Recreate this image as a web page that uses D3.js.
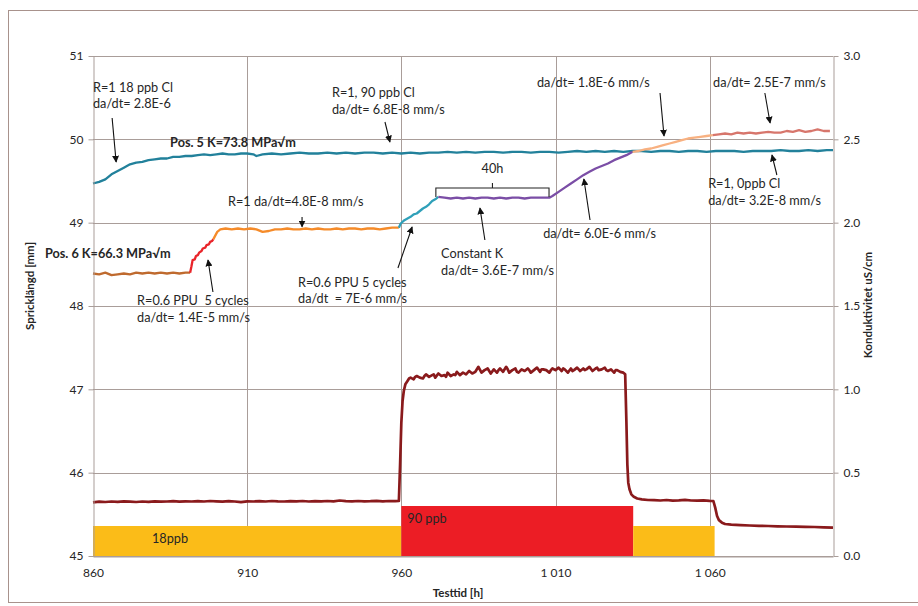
<!DOCTYPE html>
<html>
<head>
<meta charset="utf-8">
<script src="https://cdn.jsdelivr.net/npm/d3@7/dist/d3.min.js"></script>
<style>
  html, body { margin: 0; padding: 0; background: #fff; }
  svg text { font-family: Lato, "Open Sans", "Liberation Sans", sans-serif; fill: #262626; white-space: pre; }
</style>
</head>
<body>
<svg id="chart" width="918" height="606"></svg>
<script>
// ---- Axis ticks ----
const hourTicks = [860, 910, 960, 1010, 1060];
const lengthTicks = [45, 46, 47, 48, 49, 50, 51];
const condTicks = [0, 0.5, 1.0, 1.5, 2.0, 2.5, 3.0];

// ---- Crack length, position 5 (hours, mm) ----
const pos5 = [
  [860,49.47],[862,49.49],[864,49.52],[866,49.58],[868,49.62],[870,49.66],[872,49.70],[874,49.72],
  [876,49.73],[878,49.75],[880,49.76],[882,49.77],[884,49.77],[886,49.79],[888,49.79],[890,49.80],
  [892,49.80],[894,49.81],[896,49.82],[898,49.81],[900,49.82],[902,49.83],[904,49.82],[906,49.82],
  [908,49.83],[910,49.83],[912,49.82],[913,49.80],[915,49.82],[918,49.83],[921,49.82],[924,49.83],
  [927,49.84],[930,49.83],[933,49.83],[936,49.84],[939,49.83],[942,49.84],[945,49.83],[948,49.84],
  [951,49.84],[954,49.83],[957,49.84],[960,49.83],[963,49.84],[966,49.83],[969,49.84],[972,49.84],
  [975,49.85],[978,49.84],[981,49.85],[984,49.84],[987,49.85],[990,49.85],[993,49.84],[996,49.85],
  [999,49.85],[1002,49.84],[1005,49.85],[1008,49.85],[1011,49.84],[1014,49.85],[1017,49.86],[1020,49.85],
  [1023,49.86],[1026,49.85],[1029,49.86],[1032,49.85],[1035,49.86],[1038,49.86],[1041,49.85],[1044,49.86],
  [1047,49.86],[1050,49.85],[1053,49.86],[1056,49.86],[1059,49.85],[1062,49.86],[1065,49.86],[1068,49.86],
  [1071,49.85],[1074,49.86],[1077,49.86],[1080,49.86],[1083,49.87],[1086,49.86],[1089,49.86],[1092,49.87],
  [1095,49.86],[1098,49.87],[1100,49.87]
];

// ---- Crack length, position 6, one array per test phase (hours, mm) ----
const pos6Start = [
  [860,48.39],[862,48.38],[864,48.40],[866,48.37],[868,48.38],[870,48.39],[872,48.38],[874,48.40],
  [876,48.39],[878,48.40],[880,48.39],[882,48.40],[884,48.39],[886,48.40],[888,48.39],[890,48.40],[891.5,48.40]
];
const pos6Cycles1 = [
  [891.5,48.40],[891.9,48.47],[892.3,48.55],[893.0,48.56],[893.4,48.60],[894.0,48.61],[894.4,48.64],
  [895.2,48.66],[895.6,48.69],[896.4,48.70],[896.8,48.73],[897.6,48.74],[898.0,48.77],[898.6,48.78],[899.0,48.80]
];
const pos6R1 = [
  [899.0,48.80],[900.3,48.89],[901.3,48.92],[903,48.93],[905,48.92],[907,48.93],[909,48.92],[911,48.93],
  [913,48.92],[915,48.89],[917,48.90],[919,48.92],[921,48.92],[923,48.93],[925,48.92],[927,48.92],
  [929,48.93],[931,48.92],[933,48.93],[935,48.92],[937,48.92],[939,48.93],[941,48.92],[943,48.93],
  [945,48.93],[947,48.92],[949,48.93],[951,48.93],[953,48.92],[955,48.93],[957,48.94],[959.2,48.94]
];
const pos6Cycles2 = [
  [959.2,48.94],[959.8,48.99],[961,49.03],[962,49.05],[963,49.07],[964,49.10],[965,49.11],[966,49.14],
  [967,49.17],[968,49.19],[969,49.22],[970,49.26],[971,49.28],[972,49.31]
];
const pos6ConstK = [
  [972,49.31],[974,49.30],[976,49.29],[978,49.30],[980,49.29],[982,49.30],[984,49.29],[986,49.30],
  [988,49.30],[990,49.29],[992,49.30],[994,49.29],[996,49.30],[998,49.30],[1000,49.29],[1002,49.30],
  [1004,49.30],[1006,49.30],[1008,49.30],[1009,49.32],[1011,49.37],[1013,49.42],[1015,49.47],[1017,49.52],
  [1019,49.57],[1021,49.61],[1023,49.65],[1025,49.68],[1027,49.71],[1029,49.75],[1031,49.78],[1033,49.81],[1035,49.85]
];
const pos6Ramp = [
  [1035,49.85],[1037,49.86],[1039,49.88],[1041,49.89],[1043,49.91],[1045,49.93],[1047,49.95],[1049,49.97],
  [1051,49.99],[1053,50.01],[1055,50.02],[1057,50.03],[1059,50.04],[1061,50.05]
];
const pos6End = [
  [1061,50.05],[1063,50.06],[1065,50.07],[1067,50.06],[1069,50.08],[1071,50.07],[1073,50.08],[1075,50.07],
  [1077,50.08],[1079,50.09],[1081,50.08],[1083,50.08],[1085,50.10],[1087,50.09],[1089,50.11],[1091,50.09],
  [1093,50.10],[1095,50.12],[1097,50.10],[1099,50.10]
];

// ---- Conductivity (hours, uS/cm) ----
const conductivity = [
  [860,0.322],[862,0.326],[864,0.324],[866,0.327],[868,0.325],[870,0.328],[872,0.326],[874,0.324],
  [876,0.327],[878,0.325],[880,0.328],[882,0.326],[884,0.327],[886,0.329],[888,0.326],[890,0.328],
  [892,0.327],[894,0.329],[896,0.327],[898,0.330],[900,0.328],[902,0.326],[904,0.329],[906,0.327],
  [908,0.323],[910,0.328],[912,0.327],[914,0.329],[916,0.327],[918,0.330],[920,0.328],[922,0.327],
  [924,0.329],[926,0.328],[928,0.330],[930,0.327],[932,0.329],[934,0.328],[936,0.330],[938,0.328],
  [940,0.333],[942,0.329],[944,0.328],[946,0.330],[948,0.328],[950,0.329],[952,0.331],[954,0.328],
  [956,0.330],[958,0.329],[959.2,0.330],
  [959.6,0.55],[960.0,0.80],[960.4,0.93],[960.8,0.99],[961.3,1.03],[962,1.05],[962.5,1.065],[963,1.07],
  [964,1.06],[964.5,1.075],[965,1.08],[966,1.07],[967,1.065],[967.5,1.08],[968,1.09],[969,1.075],
  [970,1.085],[970.5,1.09],[971,1.07],[972,1.095],[973,1.08],[974,1.085],[974.5,1.075],[975,1.10],
  [976,1.08],[977,1.09],[977.5,1.085],[978,1.105],[979,1.085],[980,1.10],[981,1.09],[981.5,1.10],
  [982,1.11],[983,1.095],[984,1.105],[984.5,1.12],[985,1.135],[986,1.10],[987,1.115],[988,1.125],
  [988.5,1.11],[989,1.095],[990,1.12],[991,1.10],[991.5,1.115],[992,1.125],[993,1.105],[994,1.135],
  [994.5,1.12],[995,1.10],[996,1.115],[997,1.125],[997.5,1.105],[998,1.10],[999,1.12],[1000,1.11],
  [1001,1.125],[1001.5,1.115],[1002,1.10],[1003,1.115],[1004,1.13],[1005,1.105],[1005.5,1.12],[1006,1.12],
  [1007,1.115],[1008,1.10],[1008.5,1.115],[1009,1.125],[1010,1.115],[1011,1.13],[1012,1.11],[1012.5,1.125],
  [1013,1.12],[1014,1.10],[1015,1.125],[1015.5,1.11],[1016,1.115],[1017,1.13],[1018,1.11],[1019,1.125],
  [1019.5,1.115],[1020,1.12],[1021,1.135],[1022,1.11],[1023,1.125],[1023.5,1.13],[1024,1.115],[1025,1.12],
  [1026,1.13],[1026.5,1.115],[1027,1.11],[1028,1.12],[1029,1.10],[1029.5,1.115],[1030,1.115],[1031,1.105],
  [1032,1.10],[1032.6,1.09],
  [1033.0,0.80],[1033.3,0.55],[1033.6,0.44],[1034.0,0.40],[1034.6,0.37],[1035.4,0.355],[1036.5,0.345],
  [1038,0.340],[1040,0.336],[1042,0.335],[1044,0.333],[1046,0.336],[1048,0.332],[1050,0.334],
  [1052,0.337],[1054,0.333],[1056,0.332],[1058,0.334],[1060,0.331],[1061.2,0.330],
  [1061.8,0.29],[1062.4,0.24],[1063,0.215],[1064,0.200],[1065,0.192],[1067,0.188],[1070,0.185],
  [1073,0.183],[1076,0.181],[1079,0.180],[1082,0.178],[1085,0.177],[1088,0.176],[1091,0.175],
  [1094,0.174],[1097,0.172],[1100,0.170]
];

// ---- Chloride dosing periods (bars on the conductivity axis) ----
const bandStart = [860, 960, 1035.2];
const bandEnd   = [960, 1035.2, 1061.6];
const bandLevel = [0.18, 0.30, 0.18];
const bandLabel = ["18ppb", "90 ppb", ""];

// ---- Annotations: text lines, anchor (hours, mm), arrow tail -> head (hours, mm) ----
const notes = [
  { lines: ["R=1 18 ppb Cl", "da/dt= 2.8E-6"], at: [860, 50.568], gap: 16, arrow: [866.2, 50.256, 867.5, 49.728] },
  { lines: ["R=1, 90 ppb Cl", "da/dt= 6.8E-8 mm/s"], at: [937.5, 50.508], gap: 17, arrow: [954.7, 50.208, 956.3, 49.968] },
  { lines: ["da/dt= 1.8E-6 mm/s"], at: [1004.0, 50.628], gap: 17, arrow: [1043.9, 50.556, 1045.2, 50.04] },
  { lines: ["da/dt= 2.5E-7 mm/s"], at: [1061.1, 50.628], gap: 17, arrow: [1077.9, 50.556, 1079.6, 50.196] },
  { lines: ["R=1 da/dt=4.8E-8 mm/s"], at: [903.8, 49.20], gap: 17, arrow: [927.8, 49.068, 927.8, 48.95] },
  { lines: ["R=0.6 PPU  5 cycles", "da/dt= 1.4E-5 mm/s"], at: [874.3, 48.012], gap: 17, arrow: [898.9, 48.168, 897.3, 48.552] },
  { lines: ["R=0.6 PPU 5 cycles", "da/dt  = 7E-6 mm/s"], at: [926.5, 48.228], gap: 16, arrow: [958.9, 48.456, 963.5, 48.948] },
  { lines: ["Constant K", "da/dt= 3.6E-7 mm/s"], at: [972.9, 48.576], gap: 17, arrow: [987.1, 48.792, 985.5, 49.176] },
  { lines: ["da/dt= 6.0E-6 mm/s"], at: [1006.0, 48.816], gap: 17, arrow: [1021.2, 49.032, 1019.2, 49.524] },
  { lines: ["R=1, 0ppb Cl", "da/dt= 3.2E-8 mm/s"], at: [1059.5, 49.416], gap: 17, arrow: [1081.8, 49.572, 1080.2, 49.812] }
];
const boldNotes = [
  { text: "Pos. 5 K=73.8 MPa\u221Am", at: [885.0, 49.908] },
  { text: "Pos. 6 K=66.3 MPa\u221Am", at: [844.4, 48.576] }
];
// constant-K hold bracket: from, to (hours), level (mm)
const holdBracket = { from: 971.2, to: 1007.9, top: 49.416, foot: 49.308, label: "40h" };

// ---------------------------------------------------------------------------
const svg = d3.select("#chart");
const plotLeft = 93, plotRight = 833, plotTop = 56, plotBottom = 556;
const noteSize = 12.7;

const x = d3.scaleLinear().domain([860, 1100]).range([plotLeft, plotRight]);
const yL = d3.scaleLinear().domain([45, 51]).range([plotBottom, plotTop]);
const yR = d3.scaleLinear().domain([0, 3]).range([plotBottom, plotTop]);

const gridColor = "#a99d99";
// hour labels use a space as thousands separator ("1 010")
const hourFmt = v => d3.format(",")(v).replace(",", " ");

// outer frame
svg.append("rect")
  .attr("x", 8.5).attr("y", 10.5).attr("width", 930).attr("height", 592)
  .attr("fill", "none").attr("stroke", "#a8928c").attr("stroke-width", 1);

// grid
const grid = svg.append("g");
grid.selectAll("line.h").data(lengthTicks).join("line")
  .attr("x1", plotLeft).attr("x2", plotRight)
  .attr("y1", d => Math.round(yL(d)) + 0.5).attr("y2", d => Math.round(yL(d)) + 0.5)
  .attr("stroke", gridColor);
grid.selectAll("line.v").data(hourTicks.slice(1)).join("line")
  .attr("y1", plotTop).attr("y2", plotBottom)
  .attr("x1", d => Math.round(x(d)) + 0.5).attr("x2", d => Math.round(x(d)) + 0.5)
  .attr("stroke", gridColor);

// dosing bands
const bandColor = ["#fbbc18", "#ec1d25", "#fbbc18"];
svg.append("g").selectAll("rect").data(bandStart).join("rect")
  .attr("x", (d, i) => x(d))
  .attr("width", (d, i) => x(bandEnd[i]) - x(d))
  .attr("y", (d, i) => yR(bandLevel[i]))
  .attr("height", (d, i) => yR(0) - yR(bandLevel[i]))
  .attr("fill", (d, i) => bandColor[i]);
svg.append("g").selectAll("text").data(bandLabel).join("text")
  .attr("x", (d, i) => x(bandStart[i]) + (i === 0 ? 59 : 6))
  .attr("y", (d, i) => i === 0 ? 543 : 523)
  .attr("font-size", noteSize)
  .text(d => d);

// series
const lineL = d3.line().x(d => x(d[0])).y(d => yL(d[1]));
const lineR = d3.line().x(d => x(d[0])).y(d => yR(d[1]));
const series = [
  { data: pos5, color: "#22819b" },
  { data: pos6Start, color: "#bf6a2e" },
  { data: pos6R1, color: "#f58b2a" },
  { data: pos6Cycles1, color: "#e9242a" },
  { data: pos6Cycles2, color: "#2fa0b9" },
  { data: pos6ConstK, color: "#7b4ea6" },
  { data: pos6Ramp, color: "#f8b181" },
  { data: pos6End, color: "#d7766c" }
];
svg.append("g").selectAll("path").data(series).join("path")
  .attr("d", s => lineL(s.data))
  .attr("fill", "none").attr("stroke", s => s.color)
  .attr("stroke-width", 2.3).attr("stroke-linejoin", "round");
svg.append("path").attr("d", lineR(conductivity))
  .attr("fill", "none").attr("stroke", "#8a1a1c")
  .attr("stroke-width", 2.7).attr("stroke-linejoin", "round");

// axes
function styleAxis(g) {
  g.selectAll(".domain, .tick line").attr("stroke", gridColor);
  g.selectAll("text").attr("font-family", "Lato, 'Open Sans', sans-serif")
    .attr("font-size", 12).attr("fill", "#404040");
}
svg.append("g").attr("transform", `translate(${plotLeft + 0.5},0)`)
  .call(d3.axisLeft(yL).tickValues(lengthTicks).tickSize(5).tickPadding(5).tickFormat(d3.format("d")).tickSizeOuter(0))
  .call(styleAxis);
svg.append("g").attr("transform", `translate(${plotRight + 0.5},0)`)
  .call(d3.axisRight(yR).tickValues(condTicks).tickSize(5).tickPadding(5).tickFormat(d3.format(".1f")).tickSizeOuter(0))
  .call(styleAxis);
svg.append("g").attr("transform", `translate(0,${plotBottom + 0.5})`)
  .call(d3.axisBottom(x).tickValues(hourTicks).tickSize(0).tickPadding(12).tickFormat(hourFmt).tickSizeOuter(0))
  .call(styleAxis);

// axis titles
svg.append("text").attr("x", (plotLeft + plotRight) / 2 - 5).attr("y", 597)
  .attr("text-anchor", "middle").attr("font-size", 11.5).attr("font-weight", "bold")
  .text("Testtid [h]");
svg.append("text").attr("transform", "translate(34,286) rotate(-90)")
  .attr("text-anchor", "middle").attr("font-size", 11.5).attr("font-weight", "bold")
  .text("Spricklängd [mm]");
svg.append("text").attr("transform", "translate(872,305) rotate(-90)")
  .attr("text-anchor", "middle").attr("font-size", 11.5).attr("font-weight", "bold")
  .text("Konduktivitet uS/cm");

// arrow head
svg.append("defs").append("marker")
  .attr("id", "head").attr("viewBox", "0 0 10 10").attr("refX", 9).attr("refY", 5)
  .attr("markerWidth", 7).attr("markerHeight", 7).attr("orient", "auto-start-reverse")
  .attr("markerUnits", "userSpaceOnUse")
  .append("path").attr("d", "M0,0 L10,5 L0,10 z").attr("fill", "#111");

// annotations
const ann = svg.append("g");
notes.forEach(n => {
  const t = ann.append("text").attr("font-size", noteSize);
  n.lines.forEach((ln, i) => {
    t.append("tspan").attr("x", x(n.at[0])).attr("y", yL(n.at[1]) + i * n.gap).text(ln);
  });
  ann.append("line")
    .attr("x1", x(n.arrow[0])).attr("y1", yL(n.arrow[1]))
    .attr("x2", x(n.arrow[2])).attr("y2", yL(n.arrow[3]))
    .attr("stroke", "#111").attr("stroke-width", 1.1)
    .attr("marker-end", "url(#head)");
});
boldNotes.forEach(n => {
  ann.append("text").attr("x", x(n.at[0])).attr("y", yL(n.at[1]))
    .attr("font-size", noteSize).attr("font-weight", "bold").text(n.text);
});
// 40 h bracket
const bx0 = x(holdBracket.from), bx1 = x(holdBracket.to);
const by = yL(holdBracket.top), byf = yL(holdBracket.foot);
ann.append("path")
  .attr("d", `M${bx0},${byf} L${bx0},${by} L${bx1},${by} L${bx1},${byf} M${(bx0 + bx1) / 2},${by} L${(bx0 + bx1) / 2},${by - 5}`)
  .attr("fill", "none").attr("stroke", "#222").attr("stroke-width", 1.1);
ann.append("text").attr("x", (bx0 + bx1) / 2).attr("y", by - 15)
  .attr("text-anchor", "middle").attr("font-size", noteSize).text(holdBracket.label);
</script>
</body>
</html>
